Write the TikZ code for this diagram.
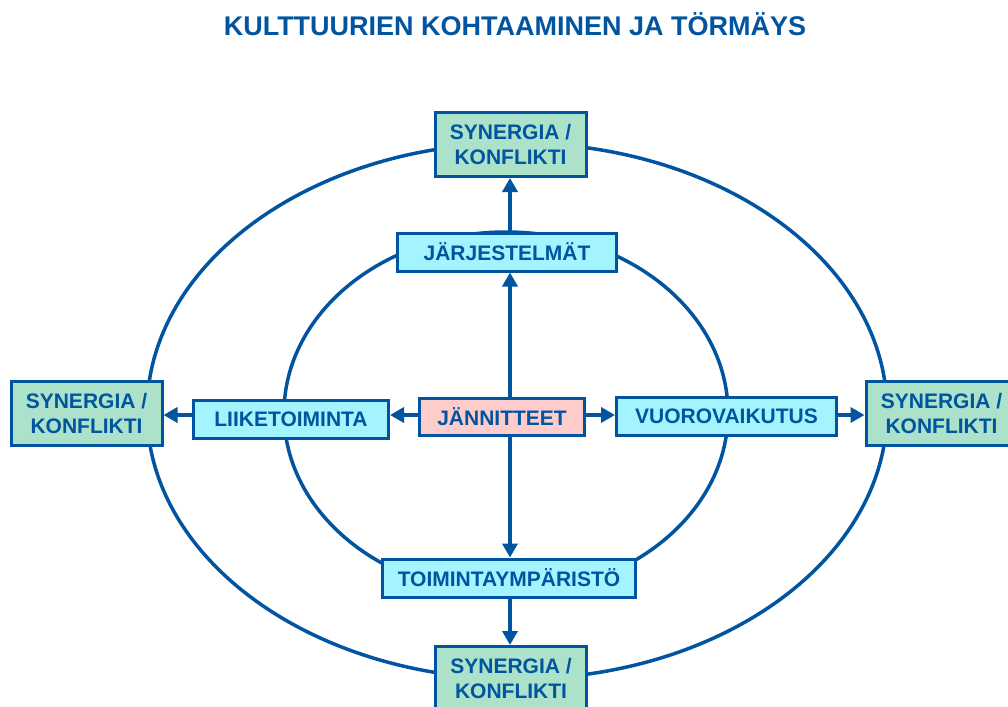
\documentclass[tikz,border=0pt]{standalone}
\usepackage{fontspec}
\setmainfont{Liberation Sans}
\usetikzlibrary{arrows.meta}
\definecolor{navy}{RGB}{0,84,160}
\definecolor{mint}{RGB}{172,226,202}
\definecolor{aqua}{RGB}{164,244,255}
\definecolor{rose}{RGB}{255,204,204}
\tikzset{
  box/.style={draw=navy, line width=3pt, text=navy, font=\fontsize{21}{25}\selectfont\bfseries,
              align=center, inner sep=0pt},
  outcome/.style={box, fill=mint, minimum width=151pt, minimum height=64pt},
  factor/.style={box, fill=aqua, minimum height=38pt},
  core/.style={box, fill=rose, minimum height=37pt},
  ring/.style={draw=navy, line width=3.5pt},
  arr/.style={draw=navy, line width=4pt, -{Triangle[width=15pt,length=14pt]}}
}
\begin{document}
\begin{tikzpicture}[x=1pt,y=-1pt]
  \clip (0,0) rectangle (1008,706);
  \useasboundingbox (0,0) rectangle (1008,706);

  % title
  \node[text=navy, font=\fontsize{27}{31}\selectfont\bfseries] (title) at (515,24)
       {KULTTUURIEN KOHTAAMINEN JA TÖRMÄYS};

  % the two rings
  \draw[ring] (517,411) ellipse [x radius=370, y radius=268];
  \draw[ring] (506,413) ellipse [x radius=222, y radius=181];

  % outcomes on the outer ring
  \node[outcome] (sTop)   at (510.5,144.5) {SYNERGIA /\\KONFLIKTI};
  \node[outcome] (sLeft)  at (86.5,413.5)  {SYNERGIA /\\KONFLIKTI};
  \node[outcome] (sRight) at (941.5,413.5) {SYNERGIA /\\KONFLIKTI};
  \node[outcome] (sBot)   at (511,678.5)   {SYNERGIA /\\KONFLIKTI};

  % factors on the inner ring
  \node[factor, minimum width=219pt] (jar) at (507,252)   {JÄRJESTELMÄT};
  \node[factor, minimum width=195pt] (lii) at (291,419.5) {LIIKETOIMINTA};
  \node[factor, minimum width=220pt] (vuo) at (726.5,416.5) {VUOROVAIKUTUS};
  \node[factor, minimum width=253pt] (toi) at (509,578)   {TOIMINTAYMPÄRISTÖ};

  % centre
  \node[core, minimum width=165pt] (jan) at (502,417) {JÄNNITTEET};

  % axes of the arrows
  \coordinate (vx) at (510,0);
  \coordinate (hy) at (0,415);

  % vertical arrows
  \draw[arr] (jan.north -| vx) -- (jar.south -| vx);
  \draw[arr] (jar.north -| vx) -- (sTop.south -| vx);
  \draw[arr] (jan.south -| vx) -- (toi.north -| vx);
  \draw[arr] (toi.south -| vx) -- (sBot.north -| vx);

  % horizontal arrows
  \draw[arr] (jan.west |- hy) -- (lii.east |- hy);
  \draw[arr] (lii.west |- hy) -- (sLeft.east |- hy);
  \draw[arr] (jan.east |- hy) -- (vuo.west |- hy);
  \draw[arr] (vuo.east |- hy) -- (sRight.west |- hy);
\end{tikzpicture}
\end{document}
